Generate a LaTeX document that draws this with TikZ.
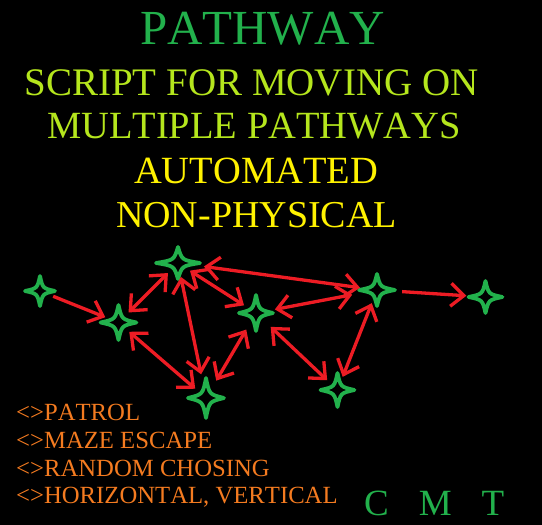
\documentclass[tikz,border=0pt]{standalone}
\usepackage{fontspec}
\setmainfont{Liberation Serif}[Kerning=Off]
\usetikzlibrary{arrows.meta}
\definecolor{pathgreen}{HTML}{22B14C}
\definecolor{limegreen}{HTML}{B5E61D}
\definecolor{sunyellow}{HTML}{FFF200}
\definecolor{pathred}{HTML}{ED1C24}
\definecolor{listorange}{HTML}{F47B20}
\tikzset{
  sparkle/.pic={
    \draw[pathgreen, line width=3.8pt, line join=round] (1,0) .. controls (0.18,0.18) .. (0,1) .. controls (-0.18,0.18) .. (-1,0) .. controls (-0.18,-0.18) .. (0,-1) .. controls (0.18,-0.18) .. cycle;
  }
}

\begin{document}
\begin{tikzpicture}[
    x=1pt, y=-1pt,
    spot/.style={circle, minimum size=28pt, inner sep=0pt},
    oneway/.style={draw=pathred, line width=3.3pt, -{Straight Barb[length=13pt, width=23pt]}},
    twoway/.style={oneway, {Straight Barb[length=13pt, width=23pt]}-{Straight Barb[length=13pt, width=23pt]}},
    headline/.style={anchor=base, inner sep=0pt},
    listline/.style={anchor=base west, inner sep=0pt, text=listorange, font=\fontsize{24.7}{24.7}\selectfont}
]
\path[use as bounding box, fill=black] (0,0) rectangle (542,525);

\node[headline, text=pathgreen, font=\fontsize{49}{49}\selectfont] (title_line) at (262.5,44) {PATHWAY};
\node[headline, text=limegreen, font=\fontsize{39}{39}\selectfont] (script_line) at (251.5,95) {SCRIPT FOR MOVING ON};
\node[headline, text=limegreen, font=\fontsize{38.5}{38.5}\selectfont] (multi_line) at (254,138) {MULTIPLE PATHWAYS};
\node[headline, text=sunyellow, font=\fontsize{38.5}{38.5}\selectfont] (auto_line) at (256,183) {AUTOMATED};
\node[headline, text=sunyellow, font=\fontsize{38}{38}\selectfont] (nonphys_line) at (256.5,227) {NON-PHYSICAL};

\node[spot] (star_start) at (40,291) {};
\node[spot] (star_west) at (118.5,322.5) {};
\node[spot] (star_top) at (178,263) {};
\node[spot] (star_mid) at (256,313) {};
\node[spot] (star_bottom) at (206,398) {};
\node[spot] (star_east) at (377,290) {};
\node[spot] (star_end) at (485.5,297) {};
\node[spot] (star_low) at (337.5,390) {};

\foreach \s/\rx/\ry in {star_start/15/15, star_west/18/17.5, star_top/22/16, star_mid/17/18, star_bottom/18/20, star_east/18/16, star_end/17/16, star_low/17/17}
  \pic[xscale=\rx, yscale=\ry] at (\s) {sparkle};

\draw[oneway] (star_start) -- (star_west);
\draw[twoway] (star_top) -- (star_west);
\draw[twoway, shorten >=10pt] (star_top) -- (star_bottom);
\draw[twoway] (star_top) -- (star_mid);
\draw[twoway, shorten <=12pt, shorten >=3pt] (star_top) -- (star_east);
\draw[twoway] (star_west) -- (star_bottom);
\draw[twoway, shorten <=5pt, shorten >=6pt] (star_mid) -- (star_bottom);
\draw[twoway, shorten <=5pt, shorten >=11pt] (star_mid) -- (star_east);
\draw[twoway, shorten <=6pt] (star_mid) -- (star_low);
\draw[twoway] (star_east) -- (star_low);
\draw[oneway, shorten <=11pt, shorten >=5pt] (star_east) -- (star_end);

\node[listline] (patrol_item) at (16,420) {<>PATROL};
\node[listline] (maze_item) at (16,448) {<>MAZE ESCAPE};
\node[listline] (random_item) at (16,476) {<>RANDOM CHOSING};
\node[listline] (axis_item) at (16,503) {<>HORIZONTAL, VERTICAL};

\node[anchor=base west, inner sep=0pt, text=pathgreen, font=\fontsize{37}{37}\selectfont] (cmt_mark) at (364,515) {C\hspace{30pt}M\hspace{30pt}T};
\end{tikzpicture}
\end{document}
